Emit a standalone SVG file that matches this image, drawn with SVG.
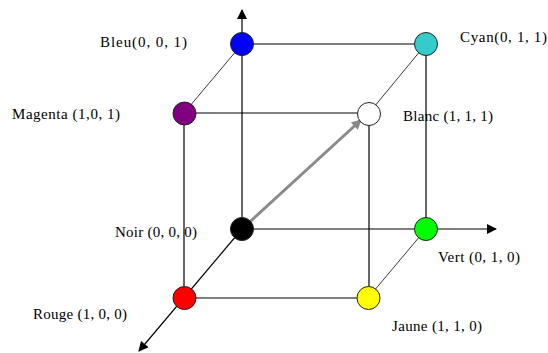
<svg xmlns="http://www.w3.org/2000/svg" width="548" height="353" viewBox="0 0 548 353">
<style>
.e{stroke:#000;stroke-width:1.2;fill:none}
.d{stroke:#222;stroke-width:0.9;fill:none}
.n{stroke:#222;stroke-width:1}
text{font-family:"Liberation Serif","Times New Roman",serif;font-size:15px;fill:#000}
</style>
<defs>
<marker id="ah" viewBox="0 0 10 10" refX="9" refY="5" markerWidth="12" markerHeight="10" markerUnits="userSpaceOnUse" orient="auto"><path d="M0,0 L10,5 L0,10 z" fill="#000"/></marker>
<marker id="ag" viewBox="0 0 10 10" refX="9" refY="5" markerWidth="11" markerHeight="10" markerUnits="userSpaceOnUse" orient="auto"><path d="M0,0 L10,5 L0,10 z" fill="#888"/></marker>
</defs>
<rect width="548" height="353" fill="#fff"/>
<g id="connectors">
<line class="e" x1="242" y1="229" x2="242" y2="10" marker-end="url(#ah)"/>
<line class="e" x1="242" y1="229" x2="496" y2="229" marker-end="url(#ah)"/>
<line class="e" x1="242" y1="229" x2="139" y2="351" marker-end="url(#ah)"/>
<line class="e" x1="242" y1="44" x2="426" y2="44"/>
<line class="e" x1="184" y1="113" x2="369" y2="113"/>
<line class="e" x1="184" y1="298" x2="368" y2="298"/>
<line class="e" x1="184" y1="113" x2="184" y2="298"/>
<line class="e" x1="369" y1="113" x2="369" y2="298"/>
<line class="e" x1="426" y1="44" x2="426" y2="229"/>
<line class="d" x1="184" y1="113" x2="242" y2="44"/>
<line class="d" x1="369" y1="113" x2="426" y2="44"/>
<line class="d" x1="368" y1="298" x2="426" y2="229"/>
<line x1="242" y1="229" x2="361" y2="120" stroke="#8a8a8a" stroke-width="3" marker-end="url(#ag)"/>
</g>
<g id="bleu"><circle class="n" cx="242" cy="44" r="11.5" fill="#0000ff"/><text x="100" y="47" textLength="87">Bleu(0, 0, 1)</text></g>
<g id="cyan"><circle class="n" cx="426" cy="44" r="11.5" fill="#33cccc"/><text x="460" y="42" textLength="87">Cyan(0, 1, 1)</text></g>
<g id="magenta"><circle class="n" cx="184.5" cy="113.5" r="11.5" fill="#800080"/><text x="12" y="119" textLength="108">Magenta (1,0, 1)</text></g>
<g id="blanc"><circle class="n" cx="369" cy="114" r="11.5" fill="#fff"/><text x="403" y="121" textLength="90">Blanc (1, 1, 1)</text></g>
<g id="noir"><circle class="n" cx="242" cy="229" r="11.5" fill="#000"/><text x="115" y="237" textLength="82">Noir (0, 0, 0)</text></g>
<g id="vert"><circle class="n" cx="426" cy="229" r="11.5" fill="#00ff00"/><text x="438" y="262" textLength="82">Vert (0, 1, 0)</text></g>
<g id="rouge"><circle class="n" cx="184.5" cy="298" r="11.5" fill="#ff0000"/><text x="33" y="319" textLength="94">Rouge (1, 0, 0)</text></g>
<g id="jaune"><circle class="n" cx="368.5" cy="298" r="11.5" fill="#ffff00"/><text x="392" y="331" textLength="90">Jaune (1, 1, 0)</text></g>
</svg>
